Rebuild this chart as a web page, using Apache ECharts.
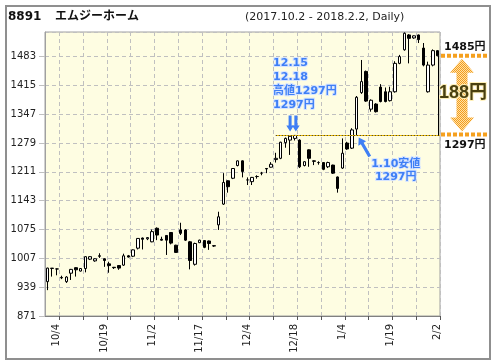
<!DOCTYPE html>
<html><head><meta charset="utf-8">
<script src="https://cdn.jsdelivr.net/npm/echarts@6/dist/echarts.min.js"></script>
<style>html,body{margin:0;padding:0;background:#fff}#c{width:496px;height:364px}</style>
</head><body><div id="c"></div>
<script>
// ---- data ----
const dates = ['10/2','10/3','10/4','10/5','10/6','10/10','10/11','10/12','10/13','10/16','10/17','10/18','10/19','10/20','10/23','10/24','10/25','10/26','10/27','10/30','10/31',
'11/1','11/2','11/6','11/7','11/8','11/9','11/10','11/13','11/14','11/15','11/16','11/17','11/20','11/21','11/22','11/24','11/27','11/28','11/29','11/30',
'12/1','12/4','12/5','12/6','12/7','12/8','12/11','12/12','12/13','12/14','12/15','12/18','12/19','12/20','12/21','12/22','12/25','12/26','12/27','12/28','12/29',
'1/4','1/5','1/9','1/10','1/11','1/12','1/15','1/16','1/17','1/18','1/19','1/22','1/23','1/24','1/25','1/26','1/29','1/30','1/31',
'2/1','2/2'];
const opens  = [952,983,982,962,952,972,985,977,983,1005,1001,1013,1006,994,986,990,991,1013,1012,1031,1055,
1053,1046,1078,1052,1061,1068,1038,1074,1074,1046,993,1044,1049,1048,1036,1086,1135,1190,1196,1226,
1237,1192,1188,1200,1208,1219,1222,1240,1243,1280,1286,1290,1286,1226,1263,1237,1233,1233,1223,1227,1199,
1220,1279,1267,1312,1398,1448,1359,1371,1411,1400,1379,1400,1467,1499,1534,1527,1534,1503,1400,
1463,1497];
const closes = [984,984,982,961,963,981,980,983,1011,1011,1006,1012,1002,990,985,984,1013,1010,1027,1054,1052,
1056,1070,1062,1050,1050,1043,1021,1066,1050,1002,1042,1050,1033,1042,1037,1105,1186,1176,1219,1237,
1212,1192,1198,1200,1208,1218,1229,1243,1281,1290,1295,1297,1223,1235,1243,1236,1233,1217,1233,1208,1172,
1255,1265,1310,1387,1424,1378,1380,1353,1377,1377,1400,1467,1483,1538,1526,1532,1523,1463,1463,
1497,1485];
const lows   = [932,964,967,958,949,956,964,976,974,1003,999,1008,987,973,982,980,989,1009,1010,1028,1028,
1050,1045,1050,1049,1015,1040,1020,1062,1048,981,990,1043,1031,1027,1034,1074,1133,1162,1194,1224,
1198,1180,1180,1195,1203,1208,1221,1233,1241,1268,1251,1285,1220,1224,1223,1227,1228,1215,1220,1206,1162,
1218,1263,1265,1297,1395,1376,1353,1351,1375,1375,1377,1398,1465,1497,1467,1525,1515,1460,1398,
1460,1484];
const highs  = [985,984,983,966,965,982,986,984,1012,1012,1007,1019,1007,999,986,991,1018,1015,1028,1055,1056,
1057,1075,1080,1058,1062,1069,1039,1091,1076,1048,1044,1051,1050,1049,1038,1117,1208,1191,1220,1238,
1238,1198,1199,1203,1211,1220,1234,1256,1282,1292,1297,1297,1288,1236,1264,1238,1236,1234,1235,1228,1200,
1290,1282,1314,1390,1475,1450,1382,1373,1418,1410,1412,1472,1487,1540,1536,1533,1535,1515,1471,
1500,1498];
const xTickLabels = ['10/4','10/19','11/2','11/17','12/4','12/18','1/4','1/19','2/2'];
const yMin = 871, yMax = 1541, yStep = 68;
const highPrice = 1297, lowPrice = 1297, lastPrice = 1485;
const highIdx = [51, 52], lowIdx = 65, lastIdx = 82;

const FONT = 'Verdana, "DejaVu Sans", "Noto Sans CJK JP", sans-serif';
const chart = echarts.init(document.getElementById('c'), null, {renderer: 'canvas'});
const candleData = dates.map((d, i) => [opens[i], closes[i], lows[i], highs[i]]);
const gridLine = (i) => (i - 3) % 5 === 0;

chart.setOption({
  animation: false,
  backgroundColor: '#ffffff',
  grid: {left: 45, top: 32, width: 395, height: 284, show: true, backgroundColor: '#fefde2', borderColor: '#a0a0a0', borderWidth: 1},
  xAxis: {
    type: 'category', data: dates, boundaryGap: true,
    axisLine: {lineStyle: {color: '#808080'}},
    axisTick: {show: true, interval: gridLine, length: 4, lineStyle: {color: '#555'}},
    splitLine: {show: true, interval: gridLine, lineStyle: {color: '#c0c0c0', type: [4, 3]}},
    axisLabel: {interval: (i, v) => xTickLabels.indexOf(v) >= 0, rotate: 90, margin: 8, fontSize: 10,
      color: '#222', fontFamily: FONT, padding: [0, 0, 5, 0]}
  },
  yAxis: {
    type: 'value', min: yMin, max: yMax, interval: yStep,
    axisLine: {show: true, lineStyle: {color: '#a0a0a0'}},
    axisTick: {show: true, length: 6, lineStyle: {color: '#c0c0c0'}},
    splitLine: {show: true, lineStyle: {color: '#c0c0c0', type: [4, 3]}},
    axisLabel: {showMaxLabel: false, margin: 9, fontSize: 10, color: '#222', fontFamily: FONT, formatter: (v) => String(v)}
  },
  series: [{
    type: 'candlestick', data: candleData, barWidth: 3,
    itemStyle: {color: '#ffffff', color0: '#000000', borderColor: '#000000', borderColor0: '#000000', borderWidth: 1},
    emphasis: {disabled: true}
  }]
});

const px = (i, v) => chart.convertToPixel({xAxisIndex: 0, yAxisIndex: 0}, [i, v]);
function arrow(tail, tip, shaftHalf, headHalf, headLen, fill) {
  const dx = tip[0] - tail[0], dy = tip[1] - tail[1];
  const L = Math.sqrt(dx * dx + dy * dy), ux = dx / L, uy = dy / L, nx = -uy, ny = ux;
  const bx = tip[0] - ux * headLen, by = tip[1] - uy * headLen;
  return {type: 'polygon', z: 100, shape: {points: [
    [tail[0] + nx * shaftHalf, tail[1] + ny * shaftHalf],
    [bx + nx * shaftHalf, by + ny * shaftHalf],
    [bx + nx * headHalf, by + ny * headHalf],
    tip,
    [bx - nx * headHalf, by - ny * headHalf],
    [bx - nx * shaftHalf, by - ny * shaftHalf],
    [tail[0] - nx * shaftHalf, tail[1] - ny * shaftHalf]
  ]}, style: {fill: fill}};
}
function dblArrow(cx, y1, y2, shaftHalf, headHalf, headLen, fill) {
  return {type: 'polygon', z: 100, shape: {points: [
    [cx, y1], [cx + headHalf, y1 + headLen], [cx + shaftHalf, y1 + headLen], [cx + shaftHalf, y2 - headLen],
    [cx + headHalf, y2 - headLen], [cx, y2], [cx - headHalf, y2 - headLen], [cx - shaftHalf, y2 - headLen],
    [cx - shaftHalf, y1 + headLen], [cx - headHalf, y1 + headLen]
  ]}, style: {fill: fill}};
}
function txt(text, x, y, opts) {
  return {type: 'text', z: 110, x: x, y: y, style: Object.assign({text: text, font: '10px ' + FONT, fill: '#222',
    align: 'left', verticalAlign: 'middle'}, opts || {})};
}

// checker pattern for orange arrow
const pc = document.createElement('canvas'); pc.width = 2; pc.height = 2;
const pctx = pc.getContext('2d');
pctx.fillStyle = '#ffe2a6'; pctx.fillRect(0, 0, 2, 2);
pctx.fillStyle = '#f39c1e'; pctx.fillRect(0, 0, 1, 1); pctx.fillRect(1, 1, 1, 1);

const BLUE = '#3f7ff5';
const blueOpts = {font: 'bold 11px ' + FONT, fill: BLUE, stroke: '#d6e4ff', lineWidth: 2, strokeFirst: true};
const gRight = 440;
const pHigh1 = px(highIdx[0], highPrice), pHigh2 = px(highIdx[1], highPrice);
const pLow = px(lowIdx, lowPrice);
const pLast = px(lastIdx, lastPrice), pLastLow = px(lastIdx, lowPrice);
const yTop = pLast[1], yBot = pLastLow[1];
const startLine = px(48, highPrice);
const yb = Math.round(yBot) + 0.5;

const graphics = [
  {type: 'rect', z: 0, shape: {x: 6, y: 6, width: 484, height: 353}, style: {fill: 'none', stroke: '#8f8f8f', lineWidth: 2}},
  txt('8891', 8, 17, {font: 'bold 12px ' + FONT, fill: '#111'}),
  txt('エムジーホーム', 55, 17, {font: 'bold 12px ' + FONT, fill: '#111'}),
  txt('(2017.10.2 - 2018.2.2, Daily)', 245, 17, {font: '11px ' + FONT, fill: '#222'}),
  // 1297 dotted line
  {type: 'line', z: 90, shape: {x1: startLine[0], y1: yb, x2: gRight, y2: yb}, style: {stroke: '#f5c000', lineWidth: 1}},
  {type: 'line', z: 91, shape: {x1: startLine[0], y1: yb, x2: gRight, y2: yb}, style: {stroke: '#333', lineWidth: 1, lineDash: [1, 2]}},
  // last price vertical line
  {type: 'line', z: 92, shape: {x1: Math.round(pLast[0]) + 0.5, y1: yTop, x2: Math.round(pLast[0]) + 0.5, y2: yBot}, style: {stroke: '#000', lineWidth: 1}},
  // blue down arrows
  arrow([pHigh1[0], pHigh1[1] - 20], [pHigh1[0], pHigh1[1] - 4], 1.5, 3.8, 6, BLUE),
  arrow([pHigh2[0] + 1, pHigh2[1] - 20], [pHigh2[0] + 1, pHigh2[1] - 4], 1.5, 3.8, 6, BLUE),
  txt('12.15', pHigh1[0] - 17, pHigh1[1] - 72, blueOpts),
  txt('12.18', pHigh1[0] - 17, pHigh1[1] - 58, blueOpts),
  txt('高値1297円', pHigh1[0] - 17, pHigh1[1] - 44, blueOpts),
  txt('1297円', pHigh1[0] - 17, pHigh1[1] - 30, blueOpts),
  // low arrow
  arrow([pLow[0] + 13, pLow[1] + 21], [pLow[0] + 2, pLow[1] + 2], 1.6, 4.5, 7, BLUE),
  txt('1.10安値', pLow[0] + 39, pLow[1] + 29, Object.assign({}, blueOpts, {align: 'center'})),
  txt('1297円', pLow[0] + 39, pLow[1] + 42, Object.assign({}, blueOpts, {align: 'center'})),
  // right side range
  {type: 'line', z: 95, shape: {x1: gRight + 1, y1: yTop, x2: 488, y2: yTop}, style: {stroke: '#f5a01e', lineWidth: 4, lineDash: [4, 2]}},
  {type: 'line', z: 95, shape: {x1: gRight + 1, y1: yBot - 1, x2: 488, y2: yBot - 1}, style: {stroke: '#f5a01e', lineWidth: 4, lineDash: [4, 2]}},
  dblArrow(462, yTop + 3, yBot - 4, 5.5, 12, 14, {image: pc, repeat: 'repeat'}),
  txt('1485円', gRight + 4, yTop - 9, {font: 'bold 11px ' + FONT, fill: '#111'}),
  txt('1297円', gRight + 4, yBot + 10, {font: 'bold 11px ' + FONT, fill: '#111'}),
  txt('188円', 463, (yTop + yBot) / 2 - 3, {font: 'bold 18px "Liberation Sans", Arial, "Noto Sans CJK JP", sans-serif',
    fill: '#4a4010', stroke: '#fff0b8', lineWidth: 2, strokeFirst: true, align: 'center'})
];
chart.setOption({graphic: graphics});
</script>
</body></html>
